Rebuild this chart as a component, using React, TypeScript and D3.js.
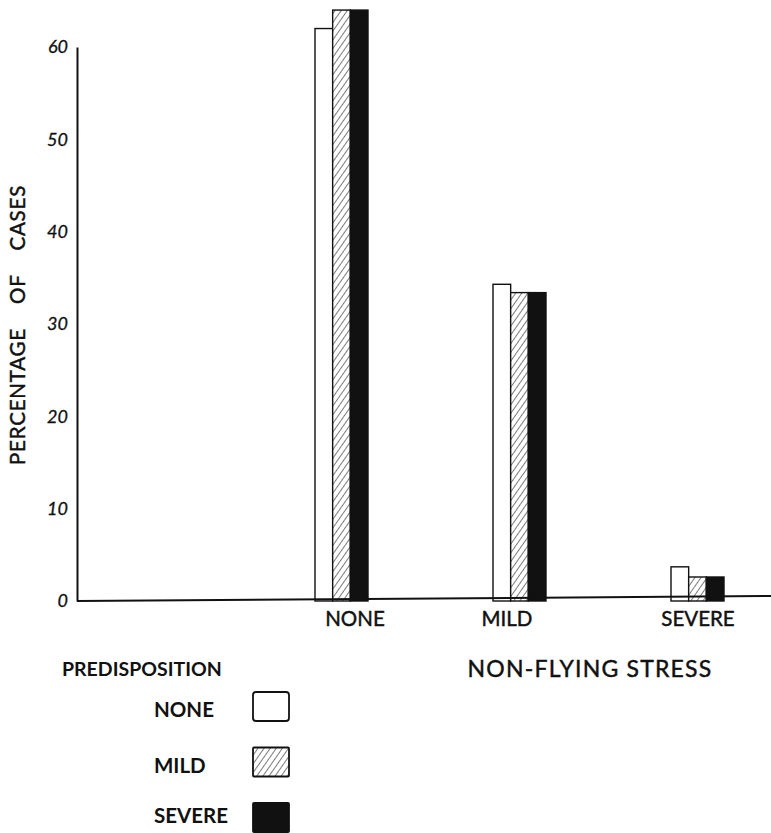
import React, { useEffect, useRef } from "react";
import * as d3 from "d3";

// Non-flying stress categories (x axis)
const stressCategories = ["NONE", "MILD", "SEVERE"];
// Predisposition series (legend)
const predispositionKeys = ["NONE", "MILD", "SEVERE"];
// Percentage of cases, per stress category, for each predisposition
const predNoneValues = [62, 34.3, 3.7];
const predMildValues = [64, 33.4, 2.6];
const predSevereValues = [64, 33.4, 2.6];
const yTickValues = [0, 10, 20, 30, 40, 50, 60];

const seriesValues = [predNoneValues, predMildValues, predSevereValues];

const App: React.FC = () => {
  const svgRef = useRef<SVGSVGElement | null>(null);
  const width = 771;
  const height = 833;

  useEffect(() => {
    const svg = d3.select(svgRef.current);
    svg.selectAll("*").remove();

    const axisX = 77;
    const baseY = 601;
    const labelFont = "Lato, 'Open Sans', sans-serif";

    const defs = svg.append("defs");
    const pat = defs
      .append("pattern")
      .attr("id", "hatch")
      .attr("patternUnits", "userSpaceOnUse")
      .attr("width", 5)
      .attr("height", 5)
      .attr("patternTransform", "rotate(35)");
    pat.append("rect").attr("width", 5).attr("height", 5).attr("fill", "#fff");
    pat
      .append("line")
      .attr("x1", 0)
      .attr("y1", 0)
      .attr("x2", 0)
      .attr("y2", 5)
      .attr("stroke", "#222")
      .attr("stroke-width", 1.2);

    const fills = ["#fff", "url(#hatch)", "#111"];

    const yScale = d3.scaleLinear().domain([0, 60]).range([baseY, 47]);

    const xScale = d3
      .scalePoint<string>()
      .domain(stressCategories)
      .range([341, 697]);

    const inner = d3
      .scaleBand<string>()
      .domain(predispositionKeys)
      .range([-26, 27])
      .padding(0);

    // bars
    stressCategories.forEach((cat, ci) => {
      predispositionKeys.forEach((key, ki) => {
        const v = seriesValues[ki][ci];
        svg
          .append("rect")
          .attr("x", (xScale(cat) || 0) + (inner(key) || 0))
          .attr("y", yScale(v))
          .attr("width", inner.bandwidth())
          .attr("height", baseY - yScale(v))
          .attr("fill", fills[ki])
          .attr("stroke", "#111")
          .attr("stroke-width", 1.4);
      });
    });

    // y axis
    const yAxis = svg
      .append("g")
      .attr("transform", `translate(${axisX},0)`)
      .call(
        d3
          .axisLeft(yScale)
          .tickValues(yTickValues)
          .tickSize(0)
          .tickPadding(9)
          .tickSizeOuter(0)
      );
    yAxis.select(".domain").attr("stroke", "#111").attr("stroke-width", 2);
    yAxis
      .selectAll("text")
      .attr("font-family", labelFont)
      .attr("font-style", "italic")
      .attr("font-size", 18)
      .attr("fill", "#111")
      .attr("stroke", "#111")
      .attr("stroke-width", 0.3);

    // x axis line
    svg
      .append("line")
      .attr("x1", axisX)
      .attr("x2", width)
      .attr("y1", baseY)
      .attr("y2", baseY - 5)
      .attr("stroke", "#111")
      .attr("stroke-width", 2);

    const textStyle = (sel: any, size: number, bold = false) =>
      sel
        .attr("font-family", labelFont)
        .attr("font-size", size)
        .attr("font-weight", bold ? "bold" : "normal")
        .attr("fill", "#111")
        .attr("stroke", "#111")
        .attr("stroke-width", bold ? 0 : 0.45);

    // category labels
    svg
      .selectAll("text.cat")
      .data(stressCategories)
      .join("text")
      .attr("class", "cat")
      .attr("x", (d) => (xScale(d) || 0) + (d === "NONE" ? 14 : d === "MILD" ? -12 : 1))
      .attr("y", 626)
      .attr("text-anchor", "middle")
      .text((d) => d)
      .call((s) => textStyle(s, 20.5));

    // axis titles
    svg
      .append("text")
      .attr("transform", `translate(25, 325) rotate(-90)`)
      .attr("text-anchor", "middle")
      .attr("letter-spacing", 0.8)
      .attr("xml:space", "preserve")
      .style("white-space", "pre")
      .text("PERCENTAGE    OF    CASES")
      .call((s) => textStyle(s, 20.5));

    svg
      .append("text")
      .attr("x", 590)
      .attr("y", 677)
      .attr("text-anchor", "middle")
      .attr("letter-spacing", 1.2)
      .text("NON-FLYING STRESS")
      .call((s) => textStyle(s, 23));

    // legend
    svg
      .append("text")
      .attr("x", 62)
      .attr("y", 676)
      .text("PREDISPOSITION")
      .call((s) => textStyle(s, 19.5, true));

    const legendY = d3.scalePoint<string>().domain(predispositionKeys).range([706, 817]);
    const legendTextShift = [11, 11, 6];
    predispositionKeys.forEach((key, i) => {
      const cy = legendY(key) || 0;
      svg
        .append("text")
        .attr("x", 154)
        .attr("y", cy + legendTextShift[i])
        .text(key)
        .call((s) => textStyle(s, 20.5, true));
      svg
        .append("rect")
        .attr("x", 253)
        .attr("y", cy - 14)
        .attr("width", 36)
        .attr("height", 29)
        .attr("rx", i === 0 ? 3 : 1)
        .attr("fill", fills[i])
        .attr("stroke", "#111")
        .attr("stroke-width", 1.8);
    });
  }, []);

  return (
    <svg
      ref={svgRef}
      width={width}
      height={height}
      style={{ position: "absolute", left: 0, top: 0, background: "#fff" }}
    ></svg>
  );
};

export default App;
